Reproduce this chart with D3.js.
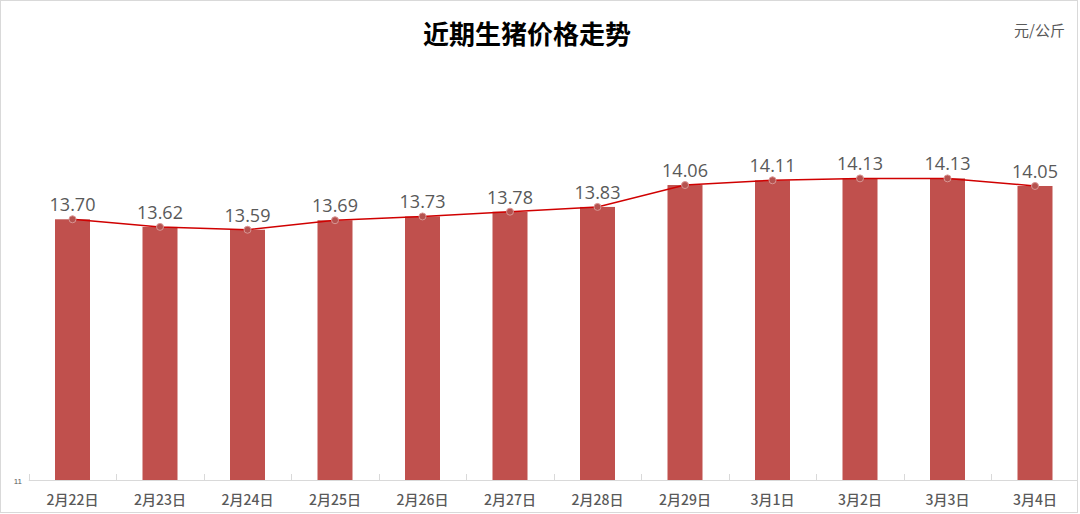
<!DOCTYPE html>
<html><head><meta charset="utf-8">
<script src="https://cdn.jsdelivr.net/npm/d3@7"></script>
<style>html,body{margin:0;padding:0;background:#fff;}svg{display:block;}</style>
</head><body>
<svg id="c" width="1080" height="514"></svg>
<script>
const categories = ["2月22日","2月23日","2月24日","2月25日","2月26日","2月27日","2月28日","2月29日","3月1日","3月2日","3月3日","3月4日"];
const prices = [13.70,13.62,13.59,13.69,13.73,13.78,13.83,14.06,14.11,14.13,14.13,14.05];
const yTickLabels = ["11"];
const title = "近期生猪价格走势";
const unit = "元/公斤";

const svg = d3.select("#c");
svg.append("rect").attr("x",0.5).attr("y",0.5).attr("width",1077).attr("height",512)
  .attr("fill","#fff").attr("stroke","#d9d9d9").attr("stroke-width",1);

const x = d3.scaleBand().domain(categories).range([28.75,1078.75]).paddingInner(0.6).paddingOuter(0.3);
const y = d3.scaleLinear().domain([10.96,15]).range([480,95.6]);

// bars
svg.append("g").selectAll("rect").data(prices).join("rect")
  .attr("x",(d,i)=>x(categories[i]))
  .attr("y",d=>y(d))
  .attr("width",x.bandwidth())
  .attr("height",d=>y.range()[0]-y(d))
  .attr("fill","#C0504D");

// axis
const axis = svg.append("g");
axis.append("line").attr("x1",28.75).attr("x2",1078).attr("y1",480.5).attr("y2",480.5)
  .attr("stroke","#d9d9d9").attr("stroke-width",1);
const step = x.step();
const bounds = d3.range(categories.length).map(i=>28.75+i*step);
axis.selectAll("line.t").data(bounds).join("line").attr("class","t")
  .attr("x1",d=>Math.round(d)+0.5).attr("x2",d=>Math.round(d)+0.5)
  .attr("y1",474).attr("y2",480).attr("stroke","#d9d9d9");
axis.selectAll("text").data(categories).join("text")
  .attr("x",d=>x(d)+x.bandwidth()/2).attr("y",505)
  .attr("text-anchor","middle")
  .attr("font-family","'Noto Sans CJK SC', sans-serif").attr("font-size",14).attr("font-weight",500)
  .attr("fill","#595959").text(d=>d);

// y tick label
svg.selectAll("text.yt").data(yTickLabels).join("text").attr("class","yt")
  .attr("x",22).attr("y",484).attr("text-anchor","end")
  .attr("font-family","'Liberation Sans', Arial, sans-serif").attr("font-size",8).attr("fill","#595959").text(d=>d);

// line
const cx = (d,i)=>x(categories[i])+x.bandwidth()/2;
const line = d3.line().x(cx).y(d=>y(d));
svg.append("path").datum(prices).attr("d",line).attr("fill","none").attr("stroke","#D00000").attr("stroke-width",1.5);
svg.append("g").selectAll("circle").data(prices).join("circle")
  .attr("cx",cx).attr("cy",d=>y(d)).attr("r",3.5)
  .attr("fill","#B5524F").attr("stroke","#D99694").attr("stroke-width",1);

// value labels
svg.append("g").selectAll("text").data(prices).join("text")
  .attr("x",cx).attr("y",d=>y(d)-8)
  .attr("text-anchor","middle")
  .attr("font-family","'Open Sans', 'Liberation Sans', sans-serif").attr("font-size",18)
  .attr("fill","#595959").text(d=>d.toFixed(2));

// title
svg.append("text").attr("x",527).attr("y",44).attr("text-anchor","middle")
  .attr("font-family","'Noto Sans CJK SC', sans-serif").attr("font-size",26).attr("font-weight",700)
  .attr("fill","#000").text(title);
svg.append("text").attr("x",1065).attr("y",36).attr("text-anchor","end")
  .attr("font-family","'Noto Sans CJK SC', sans-serif").attr("font-size",15)
  .attr("fill","#595959").text(unit);
</script>
</body></html>
